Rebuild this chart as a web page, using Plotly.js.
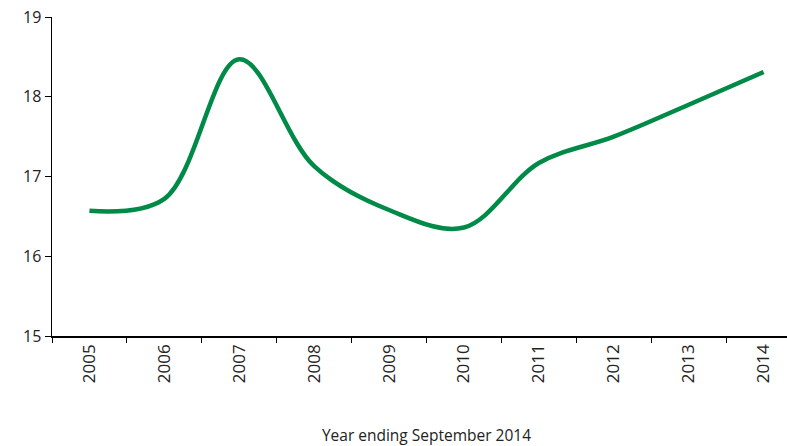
<!DOCTYPE html>
<html>
<head>
<meta charset="utf-8">
<script src="https://cdn.plot.ly/plotly-3.0.1.min.js"></script>
<style>
html, body { margin: 0; padding: 0; overflow: hidden; background: #fff; }
#chart { width: 801px; height: 446px; }
</style>
</head>
<body>
<div id="chart"></div>
<script>
const years = ['2005','2006','2007','2008','2009','2010','2011','2012','2013','2014'];
const values = [16.57, 16.72, 18.47, 17.13, 16.58, 16.36, 17.17, 17.50, 17.90, 18.31];
const yTicks = [15, 16, 17, 18, 19];
const xTitle = 'Year ending September 2014';

const trace = {
  x: years,
  y: values,
  type: 'scatter',
  mode: 'lines',
  line: { color: '#008A47', width: 4.5, shape: 'spline', smoothing: 1 },
  hoverinfo: 'x+y'
};

const layout = {
  width: 801,
  height: 446,
  margin: { l: 52, r: 0, t: 17, b: 110 },
  paper_bgcolor: '#ffffff',
  plot_bgcolor: '#ffffff',
  showlegend: false,
  font: { family: 'Open Sans, Liberation Sans, sans-serif', color: '#222', size: 16 },
  xaxis: {
    type: 'category',
    range: [-0.5, 9.5],
    tickangle: -90,
    tickson: 'boundaries',
    ticks: 'outside',
    ticklen: 5,
    tickwidth: 1,
    tickcolor: '#000',
    showline: true,
    linecolor: '#000',
    linewidth: 1.5,
    showgrid: false,
    zeroline: false,
    tickfont: { size: 17, color: '#222' },
    automargin: false,
    title: { text: xTitle, font: { size: 15.5, color: '#222' }, standoff: 50 }
  },
  yaxis: {
    range: [15, 19],
    tickvals: yTicks,
    ticks: 'outside',
    ticklen: 6,
    tickwidth: 1,
    tickcolor: '#000',
    showline: true,
    linecolor: '#000',
    linewidth: 1.5,
    showgrid: false,
    zeroline: false,
    tickfont: { size: 16, color: '#222' },
    automargin: false
  }
};

Plotly.newPlot('chart', [trace], layout, { displayModeBar: false, staticPlot: true });
</script>
</body>
</html>
